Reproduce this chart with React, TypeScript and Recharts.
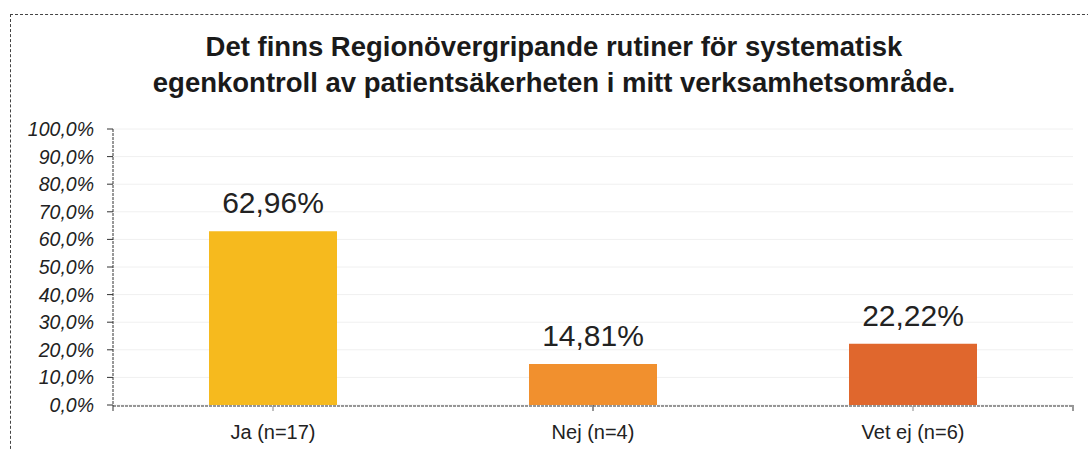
import { BarChart, Bar, XAxis, YAxis, CartesianGrid, Cell, LabelList } from 'recharts';

const categories = ['Ja (n=17)', 'Nej (n=4)', 'Vet ej (n=6)'];
const percentValues = [62.96, 14.81, 22.22];
const barColors = ['#F6BA1E', '#F1902E', '#E0672D'];
const yTicks = [0, 10, 20, 30, 40, 50, 60, 70, 80, 90, 100];
const boundaryTicks = [0, 1, 2, 3];

const titleLines = [
    'Det finns Regionövergripande rutiner för systematisk',
    'egenkontroll av patientsäkerheten i mitt verksamhetsområde.',
];

const data = categories.map((name, i) => ({ name, value: percentValues[i] }));

const font = '"Liberation Sans", Arial, sans-serif';
const fmtPct = (v: number) => `${v.toFixed(1).replace('.', ',')}%`;
const fmtLabel = (v: any) => `${Number(v).toFixed(2).replace('.', ',')}%`;

export default function App() {
    return (
        <div style={{ position: 'absolute', left: 0, top: 0, width: 1088, height: 450, background: '#fff', overflow: 'hidden', fontFamily: font }}>
            {/* dashed frame of the pasted chart */}
            <div style={{ position: 'absolute', left: 10, top: 14, width: 1100, height: 460, border: '1px dashed #444', boxSizing: 'border-box' }} />
            <div style={{ position: 'absolute', left: 0, top: 29, width: 1108, textAlign: 'center', fontWeight: 'bold', fontSize: 27.5, lineHeight: '36px', color: '#1a1a1a' }}>
                {titleLines.map((l) => <div key={l}>{l}</div>)}
            </div>
            <div style={{ position: 'absolute', left: 0, top: 0 }}>
                <BarChart width={1088} height={450} data={data} margin={{ top: 129, right: 15, bottom: 5, left: 0 }} barCategoryGap="30%">
                    <CartesianGrid vertical={false} stroke="#f0f0f0" />
                    {/* category boundary ticks, stacked first so they sit on the axis line */}
                    <XAxis
                        xAxisId={0}
                        type="number"
                        domain={[0, 3]}
                        ticks={boundaryTicks}
                        interval={0}
                        height={1}
                        axisLine={false}
                        tickSize={6}
                        tickFormatter={() => ''}
                        tickLine={{ stroke: '#333' }}
                    />
                    <XAxis
                        xAxisId="cat"
                        dataKey="name"
                        height={39}
                        tickSize={5}
                        tickMargin={14}
                        tick={{ fontSize: 20, fill: '#222', fontFamily: font }}
                        axisLine={{ stroke: '#333', strokeDasharray: '3 1' }}
                        tickLine={{ stroke: '#888' }}
                    />
                    <YAxis
                        domain={[0, 100]}
                        ticks={yTicks}
                        width={113}
                        tickSize={6}
                        tickMargin={13}
                        tickFormatter={fmtPct}
                        tick={{ fontSize: 19.5, fontStyle: 'italic', fill: '#222', fontFamily: font }}
                        axisLine={{ stroke: '#333', strokeDasharray: '3 1' }}
                        tickLine={{ stroke: '#333' }}
                        interval={0}
                    />
                    <Bar dataKey="value" xAxisId="cat" isAnimationActive={false}>
                        {data.map((d, i) => <Cell key={d.name} fill={barColors[i]} />)}
                        <LabelList dataKey="value" position="top" offset={18} formatter={fmtLabel} style={{ fontSize: 30, fill: '#222', fontFamily: font }} />
                    </Bar>
                </BarChart>
            </div>
        </div>
    );
}
